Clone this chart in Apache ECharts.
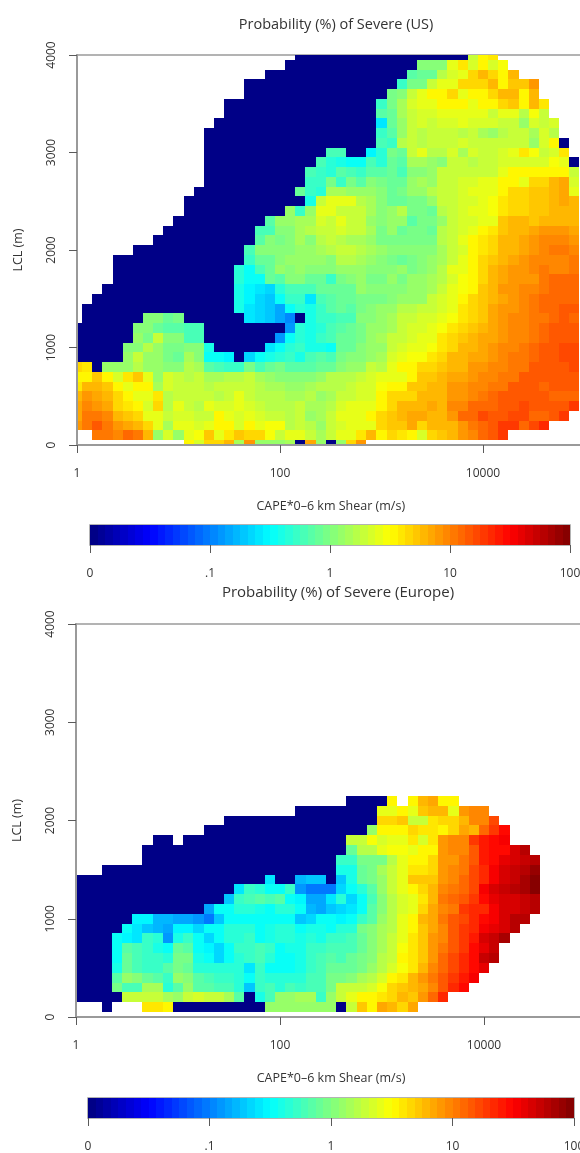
<!DOCTYPE html>
<html>
<head>
<meta charset="utf-8">
<style>html,body{margin:0;padding:0;background:#fff}#c{width:580px;height:1153px}</style>
<script src="https://cdn.jsdelivr.net/npm/echarts@6/dist/echarts.min.js"></script>
</head>
<body>
<div id="c"></div>
<script>
const _ = null;
// Colour-scale level (0-64 along the colour bar) per cell.
// Each row is one LCL step (100 m) from 0 m upward; first item = first column (0.1 log10 steps from 1).
const usRows = [
[11,40,37,42,42,44,34,46,33,33,33,34,0,45,33,0,33,42,46],
[2,48,48,47,49,48,44,33,37,33,38,39,43,38,41,43,42,42,39,36,38,38,36,34,36,38,38,41,44,40,42,41,40,37,42,43,44,46,47,49,50,52],
[0,46,48,50,48,46,45,44,42,38,34,38,38,37,38,40,40,37,40,38,39,39,35,36,35,33,36,37,38,38,38,42,43,43,45,42,44,44,44,46,48,49,50,52,52,49,51,53],
[0,45,48,48,47,44,43,42,38,38,36,37,37,36,36,40,38,37,38,37,36,36,35,36,33,34,36,38,38,38,40,42,43,44,45,45,44,44,46,49,49,51,50,50,51,51,49,49,50,52],
[0,45,47,46,45,42,41,40,37,42,35,38,36,35,38,37,37,38,37,36,35,35,35,36,34,34,35,37,38,38,38,40,42,44,44,44,45,44,47,47,49,49,49,50,50,51,50,50,50,50,52],
[0,44,46,45,44,42,40,38,38,41,35,36,36,36,36,35,36,38,36,35,35,35,34,34,35,33,34,36,36,37,37,40,42,42,42,44,44,44,46,46,47,48,49,50,50,50,50,50,49,49,49],
[0,41,44,44,43,40,38,40,40,34,37,36,36,36,35,36,36,36,36,35,34,34,33,33,34,35,35,35,36,37,37,39,40,40,43,43,44,44,46,46,47,47,48,48,50,50,50,49,50,50,50],
[0,40,40,43,40,37,41,43,38,33,37,36,35,36,34,34,35,35,36,34,33,32,32,32,32,33,35,35,35,36,37,38,38,38,40,43,43,44,45,45,46,47,47,48,48,50,50,50,50,50,50],
[0,42,41,0,33,33,33,35,33,33,32,32,35,34,29,28,27,27,31,28,30,31,29,29,29,30,30,32,33,33,36,35,38,40,40,42,42,43,44,44,46,46,47,47,48,48,50,50,50,50,51],
[0,0,0,0,0,0,33,36,33,33,31,30,34,32,24,24,23,0,21,24,25,26,27,25,28,29,28,31,32,32,33,34,37,38,39,39,41,42,44,44,45,45,46,47,48,48,49,50,50,51,51],
[0,0,0,0,0,0,32,32,35,33,31,31,32,32,25,0,0,0,0,0,22,24,26,27,25,25,24,30,30,32,33,33,36,37,38,38,39,41,42,44,44,45,46,47,47,48,49,50,50,51,51],
[0,0,0,0,0,0,0,33,31,36,32,32,28,28,0,0,0,0,0,0,0,17,24,26,25,27,28,30,30,31,33,34,36,36,37,38,38,41,42,43,44,45,45,46,47,47,48,49,50,50,50],
[0,0,0,0,0,0,0,32,32,30,29,29,28,28,0,0,0,0,0,0,0,0,17,26,25,26,28,29,30,31,33,33,34,36,37,37,38,39,41,42,43,44,45,46,47,47,48,49,50,50,50],
[1,0,0,0,0,0,0,32,32,30,31,0,0,0,0,0,0,22,21,20,18,16,0,25,27,27,28,28,32,32,33,34,36,36,37,37,38,39,41,42,43,45,46,47,47,48,48,49,50,49],
[1,0,0,0,0,0,0,0,0,0,0,0,0,0,0,0,25,22,21,20,18,24,26,25,27,29,30,29,31,32,33,33,35,35,36,36,37,38,41,42,43,45,46,46,47,48,49,49,50,50],
[2,0,0,0,0,0,0,0,0,0,0,0,0,0,0,25,23,21,20,24,27,27,22,28,29,30,30,31,31,31,32,33,33,33,36,37,38,40,42,43,44,45,46,47,48,49,49,49,49],
[3,0,0,0,0,0,0,0,0,0,0,0,0,0,25,23,22,21,26,28,28,28,30,30,30,30,33,32,32,32,32,33,33,34,36,38,39,40,43,44,46,46,47,47,48,49,49,49],
[4,0,0,0,0,0,0,0,0,0,0,0,0,26,24,24,30,29,32,32,30,30,27,31,32,33,31,31,33,31,33,33,34,35,37,39,40,42,44,45,46,46,46,48,49,49,49],
[4,0,0,0,0,0,0,0,0,0,0,0,0,26,24,28,30,33,32,33,32,32,32,33,33,33,32,32,32,33,31,32,33,35,38,38,40,42,44,45,46,46,47,48,47,47,48],
[4,0,0,0,0,0,0,0,0,0,0,0,0,0,27,30,30,32,33,33,33,33,32,35,35,34,33,32,31,30,31,32,33,34,36,38,40,42,43,44,45,46,47,47,47,47,48],
[6,0,0,0,0,0,0,0,0,0,0,0,28,32,32,32,32,33,33,34,35,36,36,35,34,33,32,32,32,32,32,34,36,37,40,41,42,44,44,45,46,47,48,48,47],
[8,0,0,0,0,0,0,0,0,0,0,29,32,31,32,34,32,35,36,35,34,34,33,31,31,31,31,31,31,35,36,38,40,41,42,44,44,45,46,47,47,47,46],
[9,0,0,0,0,0,0,0,0,0,28,28,32,32,34,35,36,36,37,36,36,34,31,33,30,31,31,30,35,36,37,38,40,41,43,44,44,45,46,46,46,45],
[10,0,0,0,0,0,0,0,0,0,29,33,33,34,34,37,36,38,36,36,33,32,33,33,29,31,31,33,36,37,37,38,38,43,44,44,43,44,44,44,44],
[11,0,0,0,0,0,0,0,0,0,0,33,27,33,38,38,36,36,36,34,32,33,35,31,31,30,35,36,37,38,38,39,41,42,42,43,43,44,44,44],
[11,0,0,0,0,0,0,0,0,0,0,0,0,25,36,38,38,38,35,34,32,30,30,31,31,33,36,36,37,37,38,39,41,42,42,43,43,44,45,44],
[12,0,0,0,0,0,0,0,0,0,0,30,27,26,34,34,33,33,33,32,30,31,33,33,35,36,36,37,38,38,38,40,42,42,43,43,44,45,38],
[13,0,0,0,0,0,0,0,0,0,0,27,27,31,27,31,29,32,31,30,30,33,34,33,36,36,37,37,38,38,40,40,38,42,42,44,45,37],
[13,0,0,0,0,0,0,0,0,0,0,28,27,26,29,28,27,29,29,30,28,32,32,33,36,36,36,36,36,36,38,40,40,40,40,40,40,36],
[13,0,0,0,0,0,0,0,0,0,0,0,28,26,25,24,24,28,26,30,29,34,34,33,32,36,36,35,36,36,37,37,37,37,37,39,38,0],
[13,0,0,0,0,0,0,0,0,0,0,0,0,28,28,0,0,23,26,31,30,36,38,35,35,37,34,37,36,36,37,38,41,39,36,37,41],
[13,0,0,0,0,0,0,0,0,0,0,0,0,0,0,0,0,0,28,27,35,36,35,36,36,36,37,36,36,36,36,36,36,33,37,40,0],
[13,0,0,0,0,0,0,0,0,0,0,0,0,0,0,0,0,0,27,29,33,36,35,36,36,36,35,36,34,33,35,36,36,34,37,35],
[14,0,0,0,0,0,0,0,0,0,0,0,0,0,0,0,0,22,30,33,36,37,36,37,37,38,37,37,37,36,36,33,37,36,37],
[15,0,0,0,0,0,0,0,0,0,0,0,0,0,0,0,29,30,34,36,37,37,38,38,38,38,38,36,38,38,35,39,36],
[15,0,0,0,0,0,0,0,0,0,0,0,0,0,0,0,27,31,34,37,38,38,40,40,40,38,40,40,42,43,40,44,41],
[17,0,0,0,0,0,0,0,0,0,0,0,0,0,0,31,32,36,38,40,40,42,38,40,40,42,44,44,40,44],
[17,0,0,0,0,0,0,0,0,0,0,0,0,0,0,0,27,31,31,36,38,38,42,42,42,44,40,43,43,46],
[19,0,0,0,0,0,0,0,0,0,0,0,0,0,0,29,30,30,35,37,38,42,44,42,40,44],
[21,0,0,0,0,0,0,0,0,0,0,0,0,0,32,32,32,38,41,37,40,37,39],
[22,0,0,0,0,0,0,0,0,0,0,0,0,0,0,0,0,0,36,40,41]
];
const europeRows = [
[0],
[3,0,_,_,_,41,41,40,0,0,0,0,0,0,0,0,0,33,33,33,33,33,33,33,0,36,43,40,45,44,42,45],
[0,0,0,0,0,0,36,36,36,36,34,33,36,37,36,36,34,29,0,25,28,33,33,34,34,27,33,36,38,40,40,41,42,44,43,46,49,53],
[0,0,0,0,0,31,28,28,34,34,26,29,33,29,29,28,28,26,20,27,28,26,28,27,28,28,31,36,36,36,37,39,42,43,44,45,47,50,53,55],
[0,0,0,0,0,29,33,32,30,29,27,33,32,29,28,27,27,26,24,27,26,26,26,26,28,28,31,31,32,34,35,37,40,41,44,46,48,50,52,54,56],
[0,0,0,0,0,25,30,28,27,27,29,31,30,26,26,26,26,26,22,27,24,24,24,25,27,28,30,30,30,31,33,35,37,39,41,44,47,49,51,53,55,57],
[0,0,0,0,0,24,30,28,27,27,26,31,31,25,24,21,24,26,27,28,26,24,24,25,27,28,29,28,30,31,32,35,36,40,41,43,46,49,51,53,55,59,60],
[0,0,0,0,0,24,29,28,27,25,24,30,29,24,23,21,24,27,27,28,27,24,25,25,27,27,28,28,28,30,32,34,36,39,41,43,46,48,50,52,55,57,59],
[0,0,0,0,0,24,23,22,27,26,17,25,27,24,21,24,26,26,27,24,25,26,26,25,26,25,27,27,28,30,32,34,36,38,41,43,46,47,50,52,54,58,59,61],
[0,0,0,0,0,0,24,22,20,19,18,23,23,21,24,24,26,26,26,24,25,26,26,24,25,25,24,26,26,31,32,34,35,38,40,43,45,47,50,52,53,56,57,58,60],
[0,0,0,0,0,0,0,23,23,19,19,18,18,17,15,20,24,24,24,24,24,24,24,20,21,24,24,23,24,27,29,33,35,38,40,44,45,48,50,51,53,55,56,58,60,60],
[0,0,0,0,0,0,0,0,0,0,0,0,0,0,18,24,24,26,26,25,24,26,26,24,19,18,20,21,22,24,29,32,35,37,38,42,45,47,48,52,53,53,56,58,58,59,60],
[0,0,0,0,0,0,0,0,0,0,0,0,0,0,0,0,20,27,28,29,28,29,24,23,18,18,22,26,21,24,28,32,35,37,38,41,44,48,49,50,52,55,57,58,58,59,60],
[0,0,0,0,0,0,0,0,0,0,0,0,0,0,0,0,0,22,27,26,24,24,27,17,15,15,15,21,24,26,29,33,36,38,40,42,44,47,48,49,51,56,58,59,60,61,63],
[0,0,0,0,0,0,0,0,0,0,0,0,0,0,0,0,0,0,0,0,22,0,0,19,20,20,0,20,25,30,31,33,36,38,43,43,43,46,47,49,51,53,56,58,59,61,63],
[3,0,0,0,0,0,0,0,0,0,0,0,0,0,0,0,0,0,0,0,0,0,0,0,25,25,30,31,34,36,38,41,41,42,46,47,48,51,53,56,58,59,60,62],
[7,0,0,0,0,0,0,0,0,0,0,0,0,0,0,0,0,0,0,0,27,27,31,31,31,35,38,40,40,42,46,46,48,50,54,55,57,58,59,60],
[7,0,0,0,0,0,0,0,0,0,0,0,0,0,0,0,0,0,0,0,0,30,35,35,38,39,39,38,40,40,46,47,47,50,54,55,55,58,60],
[8,0,0,_,0,0,0,0,0,0,0,0,0,0,0,0,0,0,0,0,36,36,39,37,38,38,41,37,41,46,47,47,52,54,55,56],
[13,0,0,0,0,0,0,0,0,0,0,0,0,0,0,0,0,33,40,40,40,42,41,41,40,42,45,44,49,52,55],
[15,0,0,0,0,0,0,0,0,0,0,0,0,0,0,0,42,42,43,36,36,41,42,42,44,47,47,51],
[22,0,0,0,0,0,0,0,0,38,38,40,38,43,44,44,38,46,47,47],
[27,0,0,0,0,40,_,40,44,45,40,40]
];
const barLevels = [0,1,2,3,4,5,6,7,8,9,10,11,12,13,14,15,16,17,18,19,20,21,22,23,24,25,26,27,28,29,30,31,32,33,34,35,36,37,38,39,40,41,42,43,44,45,46,47,48,49,50,51,52,53,54,55,56,57,58,59,60,61,62,63];
const barTicks = {0:'0',16:'.1',32:'1',48:'10',64:'100'};
const shearTicks = {0:'1',2:'100',4:'10000'};
const lclTicks = [0,1000,2000,3000,4000];
const titles = ['Probability (%) of Severe (US)','Probability (%) of Severe (Europe)'];
const xName = 'CAPE*0\u20136 km Shear (m/s)';
const yName = 'LCL (m)';
const logStep = 0.1, lclStep = 100;

const FONT = '"Open Sans", sans-serif', TXT = '#333333', LINE = '#9a9a9a', TICK = '#5a5a5a';

function jet(l){
  const v = (l + 0.5) / 64;
  const f = k => Math.round(255 * Math.max(0, Math.min(1, 1.5 - Math.abs(4 * v - k))));
  return 'rgb(' + f(3) + ',' + f(2) + ',' + f(1) + ')';
}
function cellRenderer(hx, hy){
  return function(params, api){
    const x = api.value(0), y = api.value(1);
    const a = api.coord([x - hx, y + hy]), b = api.coord([x + hx, y - hy]);
    const x0 = Math.round(a[0]), y0 = Math.round(a[1]);
    const rect = echarts.graphic.clipRectByRect(
      {x: x0, y: y0, width: Math.round(b[0]) - x0, height: Math.round(b[1]) - y0},
      {x: params.coordSys.x, y: params.coordSys.y, width: params.coordSys.width, height: params.coordSys.height});
    return rect && {type: 'rect', shape: rect, style: {fill: jet(api.value(2))}, silent: true};
  };
}
function cells(rows){
  const out = [];
  rows.forEach((row, r) => {
    row.slice(1).forEach((lv, i) => {
      if (lv !== null) out.push([(row[0] + i) * logStep, r * lclStep, lv]);
    });
  });
  return out;
}
function panelGrid(left, top, w, h){
  return {left, top, width: w, height: h, show: true, borderColor: LINE, borderWidth: 1.5, backgroundColor: 'transparent', outerBoundsMode: 'none'};
}
function panelX(i){
  return {gridIndex: i, type: 'value', min: 0, max: 5, interval: 2, z: 5, splitLine: {show: false},
    name: xName, nameLocation: 'middle', nameGap: 55, nameTextStyle: {fontFamily: FONT, fontSize: 12.5, color: TXT},
    axisLine: {show: true, onZero: false, lineStyle: {color: LINE, width: 2}},
    axisTick: {show: true, length: 8, lineStyle: {color: TICK, width: 1}},
    axisLabel: {margin: 23, fontFamily: FONT, fontSize: 12, color: TXT, showMaxLabel: false, formatter: v => shearTicks[v] || ''}};
}
function panelY(i){
  return {gridIndex: i, type: 'value', min: lclTicks[0], max: lclTicks[4], interval: 1000, z: 5, splitLine: {show: false},
    name: yName, nameLocation: 'middle', nameRotate: 90, nameGap: 52, nameTextStyle: {fontFamily: FONT, fontSize: 12.5, color: TXT},
    axisLine: {show: true, onZero: false, lineStyle: {color: LINE, width: 2}},
    axisTick: {show: true, length: 8, lineStyle: {color: TICK, width: 1}},
    axisLabel: {margin: 19, rotate: 90, fontFamily: FONT, fontSize: 12, color: TXT, formatter: v => String(v)}};
}
function barX(i){
  return {gridIndex: i, type: 'value', min: 0, max: 64, interval: 16, z: 5, splitLine: {show: false},
    axisLine: {show: false},
    axisTick: {show: true, length: 8, lineStyle: {color: TICK, width: 1}},
    axisLabel: {margin: 23, fontFamily: FONT, fontSize: 12, color: TXT, formatter: v => barTicks[v]}};
}
function barY(i){
  return {gridIndex: i, type: 'value', min: 0, max: 1, show: false, splitLine: {show: false}};
}
const barData = barLevels.map(l => [l + 0.5, 0.5, l]);
function series(i, data, hx, hy){
  return {type: 'custom', xAxisIndex: i, yAxisIndex: i, coordinateSystem: 'cartesian2d', data, clip: true,
    animation: false, renderItem: cellRenderer(hx, hy), encode: {x: 0, y: 1}};
}
const chart = echarts.init(document.getElementById('c'), null, {renderer: 'canvas'});
chart.setOption({
  animation: false,
  backgroundColor: '#ffffff',
  title: [
    {text: titles[0], left: 331, top: 12, textAlign: 'center', textStyle: {fontFamily: FONT, fontWeight: 'normal', fontSize: 14.5, color: TXT}},
    {text: titles[1], left: 333, top: 580, textAlign: 'center', textStyle: {fontFamily: FONT, fontWeight: 'normal', fontSize: 15, color: TXT}}
  ],
  grid: [
    panelGrid(77, 55, 507.5, 390),
    panelGrid(90, 525, 480, 20),
    panelGrid(76, 624, 510, 393),
    panelGrid(88, 1098, 486, 20)
  ],
  xAxis: [panelX(0), barX(1), panelX(2), barX(3)],
  yAxis: [panelY(0), barY(1), panelY(2), barY(3)],
  series: [
    series(0, cells(usRows), logStep / 2, lclStep / 2),
    series(1, barData, 0.5, 0.5),
    series(2, cells(europeRows), logStep / 2, lclStep / 2),
    series(3, barData, 0.5, 0.5)
  ]
});
</script>
</body>
</html>
